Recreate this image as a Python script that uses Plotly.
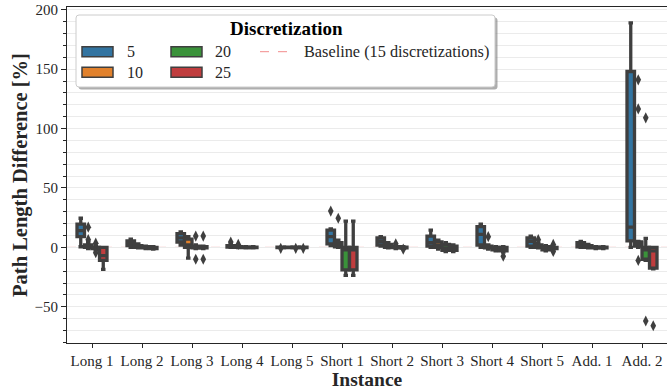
import plotly.graph_objects as go

# ---------------- data ----------------
categories = ["Long 1", "Long 2", "Long 3", "Long 4", "Long 5", "Short 1",
              "Short 2", "Short 3", "Short 4", "Short 5", "Add. 1", "Add. 2"]
hue_names = ["5", "10", "20", "25"]
hue_colors = ["#3274a1", "#e1812c", "#3a923a", "#c03d3e"]

# discretization 5
q1_5  = [9, 1.5, 4.5, 0.3, -0.1, 3, 2, 1, 2, 1, 0.5, 5.5]
med_5 = [14, 3.5, 8, 0.8, 0, 9, 5, 4, 11, 5, 2, 17]
q3_5  = [19.5, 5.5, 11.5, 1.5, 0.1, 14.5, 8, 9.5, 17.5, 8, 4, 148]
lo_5  = [0.5, 0, 2, 0, -0.2, 1.5, 1, 0, 0, 0, 0, 0]
hi_5  = [24.5, 7, 13, 2.5, 0.2, 15.5, 9, 14.5, 19.5, 9.5, 5, 189]
out_5 = [[], [], [], [4.5], [-0.8], [30.5], [], [], [], [], [], []]

# discretization 10
q1_10  = [0, 0, 0, 0, -0.1, 0.5, 0, 0, -0.5, 0, 0, 1]
med_10 = [0.5, 0.5, 2, 0.2, 0, 2, 1, 1.5, 0, 1, 0.5, 3.5]
q3_10  = [2, 1.5, 7, 0.5, 0.1, 4, 2.5, 4.5, 1, 2, 1.5, 4.5]
lo_10  = [-1, -0.5, -9, -0.3, -0.2, 0, -0.5, -1.5, -1.5, -0.5, -0.5, 0]
hi_10  = [4, 3, 9, 1, 0.2, 6, 4, 6, 2, 3.5, 2.5, 5]
out_10 = [[6.5, 17], [], [], [2.5], [], [24.5], [], [], [9], [6.5], [], [141, 116.5, -11]]

# discretization 20
q1_20  = [-1, -0.5, -0.5, -0.2, -0.1, -19, -0.3, -2.5, -2, -2, -0.5, -10]
med_20 = [-0.5, 0, 0, 0, 0, -2, 0, -0.5, -1, -0.5, 0, -2]
q3_20  = [0, 0.5, 1, 0.2, 0.1, 0, 0.5, 2.5, 0, 0.5, 0.2, 0]
lo_20  = [-2, -1, -1, -0.5, -0.2, -23.5, -1, -3.5, -3, -3, -1, -11]
hi_20  = [1, 1, 2, 0.5, 0.2, 22, 1, 4, 0.5, 1.5, 0.5, 7.5]
out_20 = [[3.5, -4.5], [], [9.5, -10], [], [-0.8], [], [3], [], [], [], [], [109, -62]]

# discretization 25
q1_25  = [-11, -1, -0.5, -0.2, -0.1, -19, -0.5, -2.5, -3, -1, -0.5, -17.5]
med_25 = [-7, -0.5, 0, 0, 0, -2, 0, -1, -1.5, -0.5, 0, -3]
q3_25  = [0, 0, 0.5, 0.2, 0.1, 0, 0.2, 1, 0, 0, 0.2, 0]
lo_25  = [-18.5, -1.5, -1, -0.5, -0.2, -23.5, -0.8, -3.5, -4, -1.5, -1, -18]
hi_25  = [0, 0.5, 1, 0.5, 0.2, 22, 0.5, 2, 0.5, 0.5, 0.5, 0]
out_25 = [[], [], [9.5, -10], [], [-0.8], [], [-1.5], [], [-7.5], [2.5, -3.5], [], [-66]]

baseline_value = 0
baseline_label = "Baseline (15 discretizations)"
legend_title = "Discretization"
x_title = "Instance"
y_title = "Path Length Difference [%]"
y_ticks = [-50, 0, 50, 100, 150, 200]

stats = [
    (q1_5, med_5, q3_5, lo_5, hi_5, out_5),
    (q1_10, med_10, q3_10, lo_10, hi_10, out_10),
    (q1_20, med_20, q3_20, lo_20, hi_20, out_20),
    (q1_25, med_25, q3_25, lo_25, hi_25, out_25),
]

# ---------------- figure ----------------
W, H = 667, 390
ML, MR, MT, MB = 67, 0, 7, 47
PW, PH = W - ML - MR, H - MT - MB
FONT = "Liberation Serif"
EDGE = "#3f3f3f"
BASE_COLOR = "rgba(240,120,120,0.85)"

def px(x):
    return (x - ML) / PW

def py(y):
    return (H - MB - y) / PH

fig = go.Figure()
for name, color, (q1, med, q3, lo, hi, out) in zip(hue_names, hue_colors, stats):
    pts = [row if len(row) else [None] for row in out]
    fig.add_trace(go.Box(
        name=name, x=categories, y=pts,
        q1=q1, median=med, q3=q3, lowerfence=lo, upperfence=hi,
        boxpoints="all", jitter=0, pointpos=0,
        fillcolor=color, line=dict(color=EDGE, width=3.3),
        whiskerwidth=0.6,
        marker=dict(symbol="diamond-tall", size=8, color=EDGE, line=dict(width=0)),
        showlegend=False, hoverinfo="skip",
    ))

fig.add_shape(type="line", xref="paper", x0=0, x1=1, yref="y",
              y0=baseline_value, y1=baseline_value, layer="between",
              line=dict(color=BASE_COLOR, width=1, dash="dash"))

# ---- legend (drawn manually, matplotlib style) ----
def rrect(x0, y0, x1, y1, r):
    def P(a, b):
        return f"{px(a):.5f},{py(b):.5f}"
    return (f"M{P(x0 + r, y0)} L{P(x1 - r, y0)} Q{P(x1, y0)} {P(x1, y0 + r)} "
            f"L{P(x1, y1 - r)} Q{P(x1, y1)} {P(x1 - r, y1)} L{P(x0 + r, y1)} "
            f"Q{P(x0, y1)} {P(x0, y1 - r)} L{P(x0, y0 + r)} Q{P(x0, y0)} {P(x0 + r, y0)} Z")

LX0, LY0, LX1, LY1 = 76, 15, 495, 87
fig.add_shape(type="path", xref="paper", yref="paper", layer="above",
              path=rrect(LX0 + 2.5, LY0 + 2.5, LX1 + 2.5, LY1 + 2.5, 3),
              fillcolor="rgba(120,120,120,0.6)", line=dict(width=0))
fig.add_shape(type="path", xref="paper", yref="paper", layer="above",
              path=rrect(LX0, LY0, LX1, LY1, 3),
              fillcolor="white", line=dict(color="#cccccc", width=1))

fig.add_annotation(xref="paper", yref="paper", x=px(286), y=py(29),
                   text=legend_title, showarrow=False, xanchor="center", yanchor="middle",
                   font=dict(family=FONT, size=19, color="black", weight="bold"))

glyph_cols = [(82, 113, 125), (82, 113, 125), (171, 202, 213), (171, 202, 213)]
glyph_rows = [51.7, 72.3, 51.7, 72.3]
for name, color, (gx0, gx1, tx), gy in zip(hue_names, hue_colors, glyph_cols, glyph_rows):
    fig.add_shape(type="rect", xref="paper", yref="paper", layer="above",
                  x0=px(gx0), x1=px(gx1), y0=py(gy - 5), y1=py(gy + 5),
                  fillcolor=color, line=dict(color=EDGE, width=1.5))
    fig.add_annotation(xref="paper", yref="paper", x=px(tx), y=py(gy),
                       text=name, showarrow=False, xanchor="left", yanchor="middle",
                       font=dict(family=FONT, size=16, color="#262626"))

fig.add_shape(type="line", xref="paper", yref="paper", layer="above",
              x0=px(260), x1=px(291), y0=py(51.7), y1=py(51.7),
              line=dict(color=BASE_COLOR, width=1, dash="dash"))
fig.add_annotation(xref="paper", yref="paper", x=px(302), y=py(51.7),
                   text=baseline_label, showarrow=False, xanchor="left", yanchor="middle",
                   font=dict(family=FONT, size=16.3, color="#262626"))

fig.update_layout(
    width=W, height=H, autosize=False,
    margin=dict(l=ML, r=MR, t=MT, b=MB, pad=0),
    paper_bgcolor="white", plot_bgcolor="white",
    boxmode="group", boxgap=0.4, boxgroupgap=0,
    font=dict(family=FONT, size=15, color="#262626"),
    showlegend=False,
)
fig.update_xaxes(
    type="category", categoryorder="array", categoryarray=categories,
    range=[-0.5, len(categories) - 0.5],
    showline=True, linecolor="#262626", linewidth=1.2, mirror=True,
    ticks="outside", ticklen=4, tickcolor="#262626",
    tickfont=dict(family=FONT, size=15, color="#262626"),
    showgrid=False,
    title=dict(text=x_title, standoff=4,
               font=dict(family=FONT, size=19.5, color="#262626", weight="bold")),
)
fig.update_yaxes(
    range=[-80.5, 202.3], tickmode="array", tickvals=y_ticks,
    ticktext=[str(v).replace("-", "\u2212") for v in y_ticks],
    showline=True, linecolor="#262626", linewidth=1.2, mirror=True,
    ticks="outside", ticklen=5, tickcolor="#262626",
    tickfont=dict(family=FONT, size=15, color="#262626"),
    showgrid=True, gridcolor="#ebebeb", gridwidth=1, zeroline=False,
    minor=dict(dtick=10, tick0=0, ticks="outside", ticklen=3, tickcolor="#262626",
               showgrid=True, gridcolor="#ebebeb", gridwidth=1),
    title=dict(text=y_title, standoff=1,
               font=dict(family=FONT, size=20.5, color="#262626", weight="bold")),
)

fig.write_html("out.html")
